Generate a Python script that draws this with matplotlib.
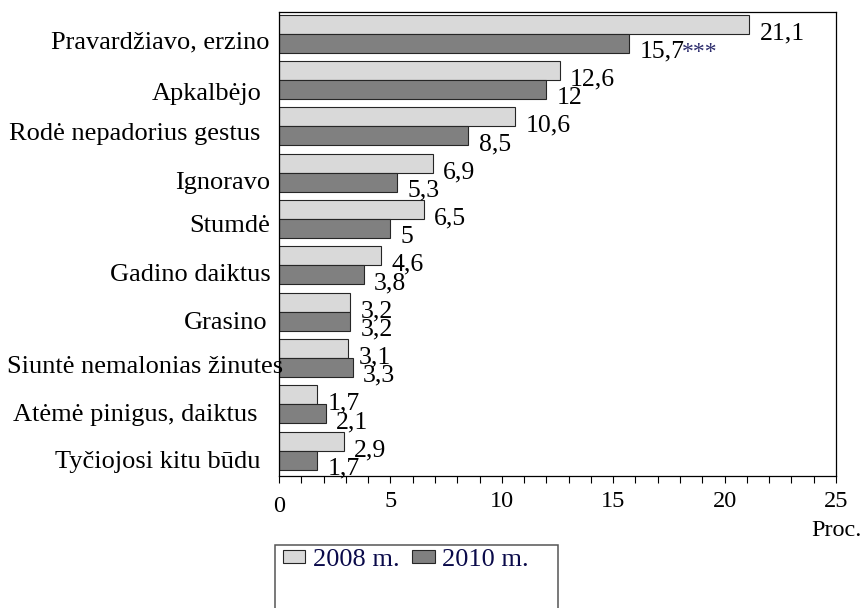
import matplotlib
matplotlib.use("Agg")
import matplotlib.pyplot as plt
import matplotlib.transforms as mtransforms
from matplotlib.patches import Rectangle
from matplotlib.ticker import MultipleLocator, FixedLocator
import numpy as np

plt.rcParams['font.family'] = ['Liberation Serif', 'DejaVu Serif']

categories = ["Pravardžiavo, erzino", "Apkalbėjo", "Rodė nepadorius gestus",
              "Ignoravo", "Stumdė", "Gadino daiktus", "Grasino",
              "Siuntė nemalonias žinutes", "Atėmė pinigus, daiktus",
              "Tyčiojosi kitu būdu"]
values_2008 = [21.1, 12.6, 10.6, 6.9, 6.5, 4.6, 3.2, 3.1, 1.7, 2.9]
values_2010 = [15.7, 12, 8.5, 5.3, 5, 3.8, 3.2, 3.3, 2.1, 1.7]
series_names = ["2008 m.", "2010 m."]
significance = ["***", "", "", "", "", "", "", "", "", ""]
x_ticks = [0, 5, 10, 15, 20, 25]
x_unit = "Proc."

W, H, DPI = 865, 608, 100
fig = plt.figure(figsize=(W / DPI, H / DPI), dpi=DPI)
ax = fig.add_axes([279 / W, 1 - 476 / H, (836 - 279) / W, (476 - 12) / H])

n = len(categories)
y = np.arange(n)
bh = 0.41
c08, c10 = '#d9d9d9', '#808080'
edge = '#262626'
b1 = ax.barh(y - bh / 2, values_2008, height=bh, color=c08, edgecolor=edge,
             linewidth=0.8, label=series_names[0])
b2 = ax.barh(y + bh / 2, values_2010, height=bh, color=c10, edgecolor=edge,
             linewidth=0.8, label=series_names[1])

ax.set_xlim(0, 25)
ax.set_ylim(9.55, -0.47)

def fmt(v):
    return ('%g' % v).replace('.', ',')

for yi, v in zip(y - bh / 2, values_2008):
    ax.annotate(fmt(v), xy=(v, yi), xytext=(7.5, -10.8), textcoords='offset points',
                ha='left', va='baseline', fontsize=18.5, color='black')
for yi, v, s in zip(y + bh / 2, values_2010, significance):
    ax.annotate(fmt(v), xy=(v, yi), xytext=(7.5, -10.3), textcoords='offset points',
                ha='left', va='baseline', fontsize=18.5, color='black')
    if s:
        ax.annotate(s, xy=(v, yi), xytext=(38, -10.3), textcoords='offset points',
                    ha='left', va='baseline', fontsize=17, color='#2e2e6e')

# x axis
ax.xaxis.set_major_locator(FixedLocator(x_ticks))
ax.xaxis.set_minor_locator(MultipleLocator(1))
ax.set_xticks(x_ticks)
ax.set_xticklabels([str(t) for t in x_ticks], fontsize=17.5)
ax.tick_params(axis='x', which='both', direction='out', length=5, width=0.8,
               pad=6, color='black')
lbl0 = ax.get_xticklabels()[0]
lbl0.set_transform(lbl0.get_transform() +
                   mtransforms.ScaledTranslation(0, -5 / DPI, fig.dpi_scale_trans))

ax.annotate(x_unit, xy=(25, 0), xycoords=('data', 'axes fraction'),
            xytext=(0, -39.5), textcoords='offset points', ha='center', va='center',
            fontsize=17.5)

# y axis
ax.set_yticks(y)
ax.set_yticklabels(categories, fontsize=19)
ax.tick_params(axis='y', length=0, pad=6.5)
dx = [0, -8, -10, 0, 0, 1, -2, 13, -12, -9]
dy = [6, 11, 5, 7.5, 5, 7, 8.5, 7, 8, 8.5]
for lab, ddx, ddy in zip(ax.get_yticklabels(), dx, dy):
    lab.set_transform(lab.get_transform() +
                      mtransforms.ScaledTranslation(ddx / DPI, -ddy / DPI, fig.dpi_scale_trans))

for sp in ax.spines.values():
    sp.set_linewidth(0.9)
    sp.set_color('black')

# legend box (extends past figure bottom)
fig.patches.append(Rectangle((275 / W, -0.05), (558 - 275) / W, (1 - 545 / H) + 0.05,
                             transform=fig.transFigure, fill=False,
                             edgecolor='#555555', linewidth=1.1))
leg = fig.legend(handles=[b1, b2], labels=series_names, loc='upper left',
                 bbox_to_anchor=(283 / W, 1 - 549 / H), bbox_transform=fig.transFigure,
                 ncol=2, frameon=False, fontsize=19, borderpad=0, borderaxespad=0,
                 handlelength=0.85, handleheight=0.35, handletextpad=0.27,
                 columnspacing=0.5, labelcolor='#0a0a4a')

fig.savefig('out.png', dpi=DPI)
